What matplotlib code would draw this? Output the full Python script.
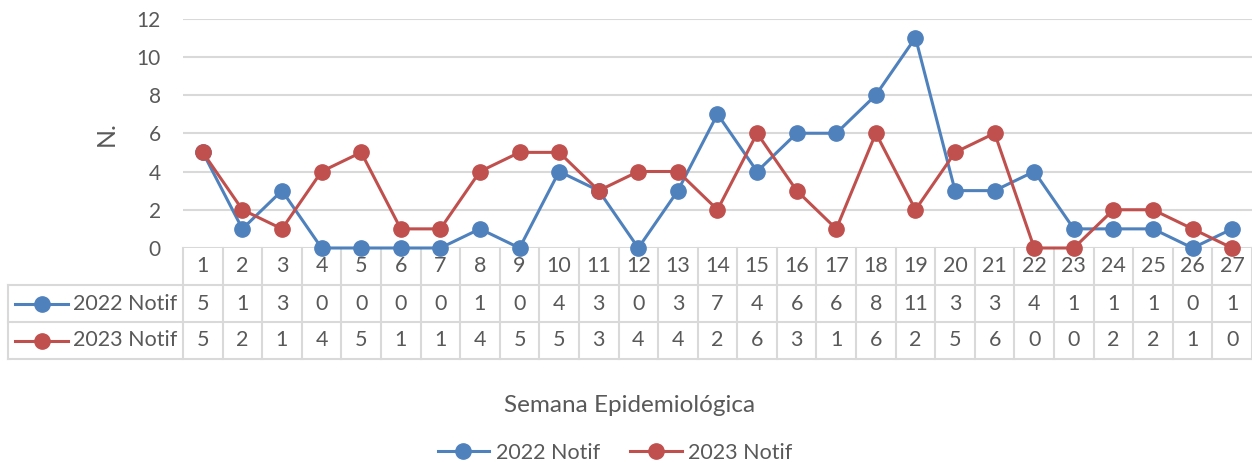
import numpy as np
import matplotlib.pyplot as plt
from matplotlib.lines import Line2D

plt.rcParams['font.family'] = ['Lato', 'DejaVu Sans']

# datos
semanas = list(range(1, 28))
notif_2022 = [5, 1, 3, 0, 0, 0, 0, 1, 0, 4, 3, 0, 3, 7, 4, 6, 6, 8, 11, 3, 3, 4, 1, 1, 1, 0, 1]
notif_2023 = [5, 2, 1, 4, 5, 1, 1, 4, 5, 5, 3, 4, 4, 2, 6, 3, 1, 6, 2, 5, 6, 0, 0, 2, 2, 1, 0]
series_labels = ['2022 Notif', '2023 Notif']
y_ticks = [0, 2, 4, 6, 8, 10, 12]

# estilo
W, H = 1252, 463
C_2022 = '#4F81BD'
C_2023 = '#C0504D'
TXT = '#595959'
GRID = '#D9D9D9'
colors = [C_2022, C_2023]


def fx(x):
    return x / W


def fy(y):
    return 1 - y / H


fig = plt.figure(figsize=(W / 100, H / 100), dpi=100)

# tabla de datos (debajo del grafico)
tax = fig.add_axes([fx(183), fy(359), fx(W - 183), (359 - 248) / H])
tax.set_zorder(0)
tax.set_xlim(0.5, 27.5)
tax.set_ylim(3, 0)
tax.axis('off')
for k in range(28):
    tax.plot([0.5 + k, 0.5 + k], [0, 3], color=GRID, lw=1.5, clip_on=False)
for i, s in enumerate(semanas):
    tax.text(s, 0.5, str(s), ha='center', va='center', fontsize=15.5, color=TXT)
    tax.text(s, 1.5, str(notif_2022[i]), ha='center', va='center', fontsize=15.5, color=TXT)
    tax.text(s, 2.5, str(notif_2023[i]), ha='center', va='center', fontsize=15.5, color=TXT)

# grafico principal
ax = fig.add_axes([fx(183), fy(248), fx(W - 183), (248 - 18.5) / H])
ax.set_zorder(1)
ax.patch.set_visible(False)
lines = []
for vals, col, lab in zip([notif_2022, notif_2023], colors, series_labels):
    ln, = ax.plot(semanas, vals, color=col, lw=2.2, marker='o', ms=11,
                  label=lab, zorder=3, clip_on=False)
    lines.append(ln)
ax.set_xlim(0.5, 27.5)
ax.set_ylim(0, 12)
ax.set_yticks(y_ticks)
ax.set_xticks([])
ax.grid(axis='y', color=GRID, lw=1.5)
ax.set_axisbelow(True)
for s in ax.spines.values():
    s.set_visible(False)
ax.tick_params(axis='y', length=0, pad=16, labelsize=15, labelcolor=TXT)
ax.set_ylabel('N.', fontsize=18, color=TXT)
ax.yaxis.set_label_coords((118 - 183) / (W - 183), 0.5)

# columna de leyenda de la tabla
for yy in [285, 322, 359]:
    fig.add_artist(Line2D([fx(8), 1], [fy(yy), fy(yy)], color=GRID, lw=1.5))
fig.add_artist(Line2D([fx(8), fx(8)], [fy(285), fy(359)], color=GRID, lw=1.5))
for r, (col, lab) in enumerate(zip(colors, series_labels)):
    yc = 285 + 37 * (r + 0.5)
    fig.add_artist(Line2D([fx(15), fx(68)], [fy(yc), fy(yc)], color=col, lw=2.2))
    fig.add_artist(Line2D([fx(42)], [fy(yc)], color=col, marker='o', ms=11, lw=0))
    fig.text(fx(73), fy(yc), lab, ha='left', va='center', fontsize=15.5, color=TXT)

# titulo del eje x
fig.text(fx(630), fy(405), 'Semana Epidemiológica', ha='center', va='center',
         fontsize=17.5, color=TXT)

# leyenda
fig.legend(handles=lines, loc='center', bbox_to_anchor=(fx(615), fy(453)),
           ncol=2, frameon=False, fontsize=15.5, labelcolor=TXT,
           handlelength=2.4, handletextpad=0.3, columnspacing=1.4,
           borderaxespad=0, borderpad=0)

fig.savefig('out.png', dpi=100)
